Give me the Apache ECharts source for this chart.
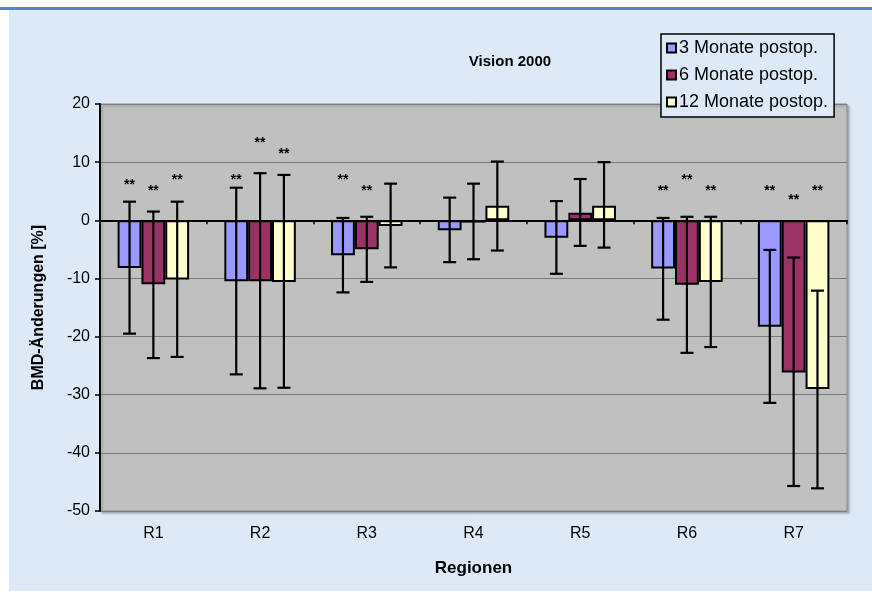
<!DOCTYPE html>
<html>
<head>
<meta charset="utf-8">
<script src="https://cdn.jsdelivr.net/npm/echarts@6/dist/echarts.min.js"></script>
<style>
html,body{margin:0;padding:0;background:#fff;}
#chart{width:872px;height:597px;}
</style>
</head>
<body>
<div id="chart"></div>
<script>
// ---- data ----
const categories = ['R1', 'R2', 'R3', 'R4', 'R5', 'R6', 'R7'];
const seriesNames = ['3 Monate postop.', '6 Monate postop.', '12 Monate postop.'];
const m3  = [-8.2, -10.5, -6.0, -1.7, -3.0, -8.3, -18.3];
const m6  = [-11.0, -10.5, -5.0, -0.4, 1.3, -11.1, -26.2];
const m12 = [-10.2, -10.6, -1.0, 2.5, 2.5, -10.6, -29.0];
const m3Low   = [-19.5, -26.5, -12.4, -7.2, -9.2, -17.1, -31.4];
const m3High  = [3.2, 5.6, 0.4, 3.9, 3.3, 0.4, -5.1];
const m6Low   = [-23.7, -28.9, -10.6, -6.7, -4.4, -22.8, -45.7];
const m6High  = [1.5, 8.1, 0.6, 6.3, 7.1, 0.6, -6.4];
const m12Low  = [-23.5, -28.8, -8.1, -5.2, -4.7, -21.8, -46.1];
const m12High = [3.2, 7.8, 6.3, 10.1, 10.0, 0.6, -12.1];
// position (in %) of the "**" significance marks, null = none
const m3Star  = [6.5, 7.5, 7.5, null, null, 5.5, 5.5];
const m6Star  = [5.5, 13.7, 5.5, null, null, 7.5, 4.0];
const m12Star = [7.5, 11.9, null, null, null, 5.5, 5.5];
const yTicks = [20, 10, 0, -10, -20, -30, -40, -50];

// ---- build ----
const FONT = "'Liberation Sans', Arial, sans-serif";
const colors = ['#9999ff', '#993366', '#ffffcc'];
const means = [m3, m6, m12];
const lows = [m3Low, m6Low, m12Low];
const highs = [m3High, m6High, m12High];
const stars = [m3Star, m6Star, m12Star];
const CAT_GAP = 0.33;

const errData = [];
const starData = [];
for (let s = 0; s < 3; s++) {
  for (let c = 0; c < categories.length; c++) {
    errData.push([c, lows[s][c], highs[s][c], s]);
    if (stars[s][c] !== null) starData.push([c, stars[s][c], s]);
  }
}
function barX(api, c, s) {
  const band = api.size([1, 0])[0];
  const group = band * (1 - CAT_GAP);
  const bw = group / 3;
  return api.coord([c, 0])[0] - group / 2 + (s + 0.5) * bw;
}

const chart = echarts.init(document.getElementById('chart'), null, {renderer: 'canvas'});
const option = {
  animation: false,
  backgroundColor: '#ffffff',
  graphic: [
    {type: 'rect', shape: {x: 9, y: 10, width: 863, height: 581}, style: {fill: '#dde9f6'}, z: -10, silent: true},
    {type: 'rect', shape: {x: 0, y: 7, width: 872, height: 3}, style: {fill: '#5b7fc3'}, z: -9, silent: true}
  ],
  title: {
    text: 'Vision 2000',
    left: 505, top: 49,
    textAlign: 'center',
    textStyle: {fontFamily: FONT, fontSize: 15, fontWeight: 'bold', color: '#000'}
  },
  legend: {
    orient: 'vertical',
    left: 661, top: 34,
    padding: [5, 6, 6, 5],
    itemGap: 9,
    itemWidth: 9, itemHeight: 9,
    backgroundColor: '#dde9f6',
    borderColor: '#000', borderWidth: 1.5,
    icon: 'rect',
    textStyle: {fontFamily: FONT, fontSize: 18, color: '#000', lineHeight: 18, padding: [0, 0, 0, -2]},
    data: seriesNames,
    z: 10
  },
  grid: {
    left: 100, right: 25, top: 104, bottom: 86,
    show: true,
    backgroundColor: '#c0c0c0',
    borderColor: '#8c8c8c', borderWidth: 1,
    shadowColor: 'rgba(0,0,0,0.25)', shadowBlur: 2, shadowOffsetX: 2, shadowOffsetY: 2
  },
  xAxis: [
    {
      type: 'category', data: categories,
      axisLine: {onZero: true, lineStyle: {color: '#000', width: 2}},
      axisTick: {show: true, inside: false, length: 4, lineStyle: {color: '#000', width: 1.5}},
      axisLabel: {show: false},
      splitLine: {show: false},
      z: 5
    },
    {
      type: 'category', data: categories, position: 'bottom',
      axisLine: {show: false, onZero: false},
      axisTick: {show: false},
      axisLabel: {show: true, margin: 15, fontFamily: FONT, fontSize: 16, color: '#000'},
      name: 'Regionen', nameLocation: 'middle', nameGap: 49,
      nameTextStyle: {fontFamily: FONT, fontSize: 17, fontWeight: 'bold', color: '#000'}
    }
  ],
  yAxis: {
    type: 'value', min: -50, max: 20, interval: 10,
    axisLine: {show: true, onZero: false, lineStyle: {color: '#000', width: 2}},
    axisTick: {show: true, inside: false, length: 5, lineStyle: {color: '#000', width: 1.5}},
    axisLabel: {margin: 10, fontFamily: FONT, fontSize: 16, color: '#000',
      formatter: v => yTicks.indexOf(v) >= 0 ? String(v) : ''},
    splitLine: {show: true, lineStyle: {color: '#7c7c7c', width: 1.2}},
    name: 'BMD-Änderungen [%]', nameLocation: 'middle', nameGap: 53,
    nameTextStyle: {fontFamily: FONT, fontSize: 16, fontWeight: 'bold', color: '#000'}
  },
  series: [
    ...seriesNames.map((n, s) => ({
      name: n, type: 'bar', data: means[s],
      barGap: '0%', barCategoryGap: (CAT_GAP * 100) + '%',
      itemStyle: {color: colors[s], borderColor: '#000', borderWidth: 2},
      z: 2
    })),
    {
      type: 'custom', data: errData, z: 6, silent: true,
      renderItem: function (params, api) {
        const c = api.value(0), lo = api.value(1), hi = api.value(2), s = api.value(3);
        const x = barX(api, c, s);
        const yLo = api.coord([c, lo])[1], yHi = api.coord([c, hi])[1];
        const cap = 6.5;
        const st = {stroke: '#000', lineWidth: 2.2};
        return {type: 'group', children: [
          {type: 'line', shape: {x1: x, y1: yLo, x2: x, y2: yHi}, style: st},
          {type: 'line', shape: {x1: x - cap, y1: yLo, x2: x + cap, y2: yLo}, style: st},
          {type: 'line', shape: {x1: x - cap, y1: yHi, x2: x + cap, y2: yHi}, style: st}
        ]};
      }
    },
    {
      type: 'custom', data: starData, z: 6, silent: true,
      renderItem: function (params, api) {
        const c = api.value(0), y = api.value(1), s = api.value(2);
        const x = barX(api, c, s);
        const py = api.coord([c, y])[1];
        return {type: 'text', x: x, y: py + 3, style: {
          text: '**', align: 'center', verticalAlign: 'middle',
          font: 'bold 14px ' + FONT, fill: '#000'
        }};
      }
    }
  ]
};
chart.setOption(option);
</script>
</body>
</html>
